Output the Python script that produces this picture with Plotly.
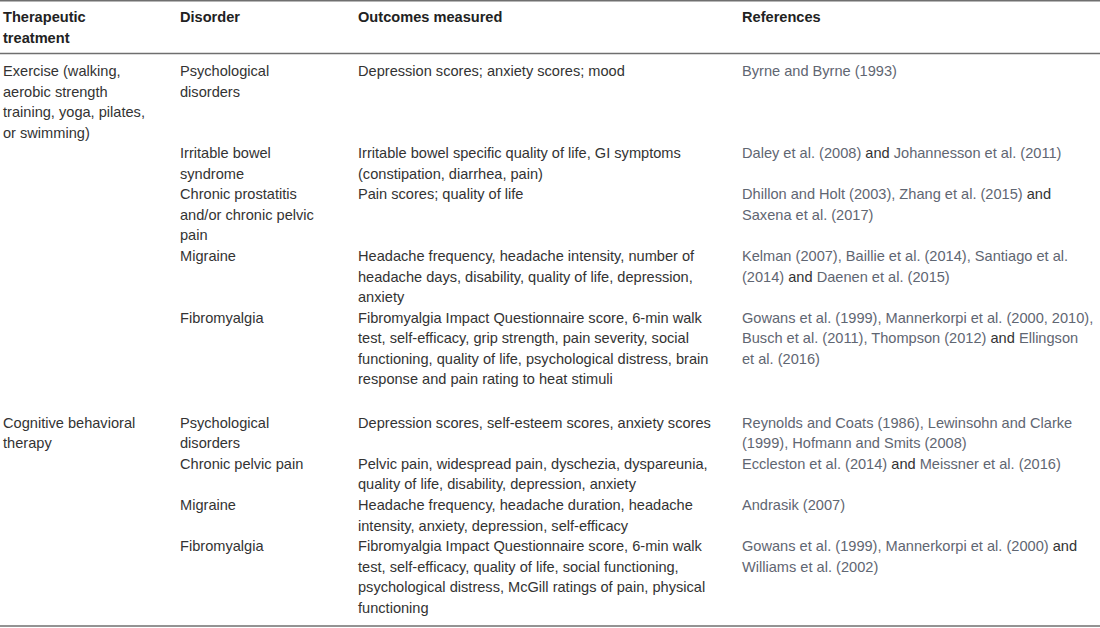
import plotly.graph_objects as go

# table content, "\n" = line break as in the source, "[and]" = dark joining word
headers = ["Therapeutic\ntreatment", "Disorder", "Outcomes measured", "References"]

treatments = [
    "Exercise (walking,\naerobic strength\ntraining, yoga, pilates,\nor swimming)",
    "", "", "", "",
    "Cognitive behavioral\ntherapy",
    "", "", "",
]

disorders = [
    "Psychological\ndisorders",
    "Irritable bowel\nsyndrome",
    "Chronic prostatitis\nand/or chronic pelvic\npain",
    "Migraine",
    "Fibromyalgia",
    "Psychological\ndisorders",
    "Chronic pelvic pain",
    "Migraine",
    "Fibromyalgia",
]

outcomes = [
    "Depression scores; anxiety scores; mood",
    "Irritable bowel specific quality of life, GI symptoms\n(constipation, diarrhea, pain)",
    "Pain scores; quality of life",
    "Headache frequency, headache intensity, number of\nheadache days, disability, quality of life, depression,\nanxiety",
    "Fibromyalgia Impact Questionnaire score, 6-min walk\ntest, self-efficacy, grip strength, pain severity, social\n"
    "functioning, quality of life, psychological distress, brain\nresponse and pain rating to heat stimuli",
    "Depression scores, self-esteem scores, anxiety scores",
    "Pelvic pain, widespread pain, dyschezia, dyspareunia,\nquality of life, disability, depression, anxiety",
    "Headache frequency, headache duration, headache\nintensity, anxiety, depression, self-efficacy",
    "Fibromyalgia Impact Questionnaire score, 6-min walk\ntest, self-efficacy, quality of life, social functioning,\n"
    "psychological distress, McGill ratings of pain, physical\nfunctioning",
]

references = [
    "Byrne and Byrne (1993)",
    "Daley et al. (2008) [and] Johannesson et al. (2011)",
    "Dhillon and Holt (2003), Zhang et al. (2015) [and]\nSaxena et al. (2017)",
    "Kelman (2007), Baillie et al. (2014), Santiago et al.\n(2014) [and] Daenen et al. (2015)",
    "Gowans et al. (1999), Mannerkorpi et al. (2000, 2010),\nBusch et al. (2011), Thompson (2012) [and] Ellingson\net al. (2016)",
    "Reynolds and Coats (1986), Lewinsohn and Clarke\n(1999), Hofmann and Smits (2008)",
    "Eccleston et al. (2014) [and] Meissner et al. (2016)",
    "Andrasik (2007)",
    "Gowans et al. (1999), Mannerkorpi et al. (2000) [and]\nWilliams et al. (2002)",
]

# row index where the second treatment group begins
group_starts = [0, 5]

col_x = [1, 178, 356, 740]
line_h = 20.55
font_size = 14.6
body_col = "#333333"
ref_col = "#5f6672"
rule_col = "#6f6f6f"
font_family = "Liberation Sans, Arial, sans-serif"

annotations = []


def add_cell(text, x, y0, color, bold=False):
    for i, line in enumerate(text.split("\n")):
        if not line:
            continue
        line = line.replace("[and]", "<span style='color:%s'>and</span>" % body_col)
        if bold:
            line = "<b>" + line + "</b>"
        annotations.append(dict(
            x=x, y=y0 + i * line_h, xref="x", yref="y",
            text=line, showarrow=False, xanchor="left", yanchor="middle",
            align="left", font=dict(family=font_family, size=font_size, color=color),
        ))


# header
for h, x in zip(headers, col_x):
    add_cell(h, x, 17, "#222222", bold=True)

# body rows
y = 71
for r in range(len(disorders)):
    if r in group_starts and r != 0:
        y += 23
    cells = [treatments[r], disorders[r], outcomes[r], references[r]]
    for c, (txt, x) in enumerate(zip(cells, col_x)):
        add_cell(txt, x, y, ref_col if c == 3 else body_col)
    n_lines = max(len(t.split("\n")) for t in cells if t)
    y += n_lines * line_h

shapes = []
for yy in [0.8, 53.5, 626]:
    shapes.append(dict(type="line", xref="x", yref="y", x0=0, x1=1100, y0=yy, y1=yy,
                       line=dict(color=rule_col, width=1.5)))

fig = go.Figure()
fig.update_layout(
    width=1100, height=628,
    margin=dict(l=0, r=0, t=0, b=0),
    paper_bgcolor="white", plot_bgcolor="white",
    xaxis=dict(range=[0, 1100], visible=False, fixedrange=True),
    yaxis=dict(range=[628, 0], visible=False, fixedrange=True),
    annotations=annotations,
    shapes=shapes,
    showlegend=False,
)

# page body has a default 8px margin; drop it so the table sits flush
fig.write_html("out.html", config={"displayModeBar": False},
               post_script="document.body.style.margin='0';document.body.style.overflow='hidden';")
